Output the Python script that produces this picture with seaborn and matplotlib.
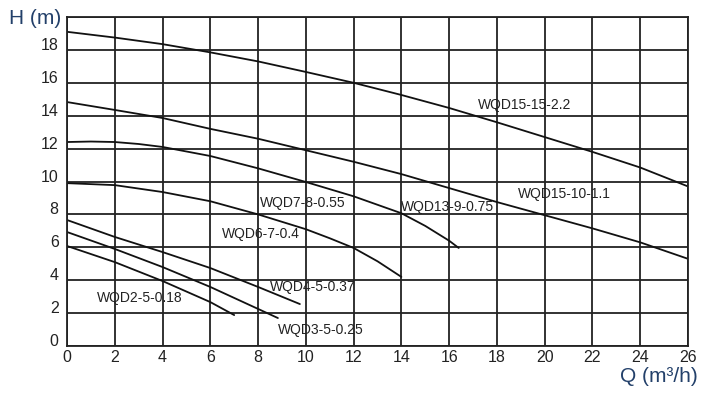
import matplotlib
matplotlib.use("Agg")
import matplotlib.pyplot as plt
import matplotlib.transforms as mtransforms
import seaborn as sns
import pandas as pd

# ---- data ----
q_15_15 = [0, 2, 4, 6, 8, 10, 12, 14, 16, 18, 20, 22, 24, 26]
h_15_15 = [19.1, 18.75, 18.35, 17.85, 17.3, 16.66, 16.0, 15.26, 14.47, 13.6, 12.7, 11.8, 10.85, 9.7]

q_15_10 = [0, 2, 4, 6, 8, 10, 12, 14, 16, 18, 20, 22, 24, 26]
h_15_10 = [14.83, 14.35, 13.86, 13.2, 12.6, 11.9, 11.2, 10.45, 9.6, 8.75, 7.95, 7.15, 6.3, 5.3]

q_13_9 = [0, 1, 2, 3, 4, 6, 8, 10, 12, 14, 15, 16, 16.4]
h_13_9 = [12.4, 12.43, 12.4, 12.28, 12.1, 11.55, 10.8, 9.97, 9.1, 8.07, 7.3, 6.4, 5.96]

q_7_8 = [0, 2, 4, 6, 8, 10, 11, 12, 13, 14]
h_7_8 = [9.9, 9.78, 9.36, 8.8, 8.0, 7.1, 6.55, 5.96, 5.15, 4.2]

q_4_5 = [0, 2, 4, 6, 8, 9.75]
h_4_5 = [7.66, 6.63, 5.71, 4.74, 3.59, 2.55]

q_3_5 = [0, 2, 4, 6, 8.83]
h_3_5 = [6.93, 5.9, 4.8, 3.59, 1.7]

q_2_5 = [0, 2, 4, 6, 7.0]
h_2_5 = [6.08, 5.1, 3.95, 2.67, 1.88]

curve_names = ["c15_15", "c15_10", "c13_9", "c7_8", "c4_5", "c3_5", "c2_5"]
curve_q = [q_15_15, q_15_10, q_13_9, q_7_8, q_4_5, q_3_5, q_2_5]
curve_h = [h_15_15, h_15_10, h_13_9, h_7_8, h_4_5, h_3_5, h_2_5]

label_texts = ["WQD15-15-2.2", "WQD15-10-1.1", "WQD13-9-0.75", "WQD7-8-0.55",
               "WQD6-7-0.4", "WQD4-5-0.37", "WQD2-5-0.18", "WQD3-5-0.25"]
label_q = [17.2, 18.87, 14.0, 8.08, 6.49, 8.5, 1.26, 8.83]
label_h = [14.65, 9.24, 8.45, 8.7, 6.8, 3.6, 2.9, 0.97]

x_ticks = list(range(0, 27, 2))
y_ticks = list(range(0, 21, 2))
y_tick_labels = [str(v) for v in range(0, 19, 2)] + [""]

# ---- build long-form table ----
rows = []
for name, qs, hs in zip(curve_names, curve_q, curve_h):
    for q, h in zip(qs, hs):
        rows.append({"curve": name, "Q": q, "H": h})
df = pd.DataFrame(rows)

sns.set_style("white")
plt.rcParams["font.family"] = ["Liberation Sans", "DejaVu Sans"]

fig = plt.figure(figsize=(7.09, 3.97), dpi=100)
ax = fig.add_axes([67 / 709, 1 - 346 / 397, (688 - 67) / 709, (346 - 17) / 397])

sns.lineplot(data=df, x="Q", y="H", units="curve", estimator=None, sort=False,
             color="#111111", linewidth=1.3, ax=ax, legend=False)

ax.set_xlim(0, 26)
ax.set_ylim(0, 20)
ax.set_xticks(x_ticks)
ax.set_yticks(y_ticks)
ax.set_xticklabels([str(v) for v in x_ticks])
ax.set_yticklabels(y_tick_labels)
ax.grid(True, color="#222222", linewidth=1.3)
ax.set_axisbelow(True)
for s in ax.spines.values():
    s.set_visible(True)
    s.set_color("#222222")
    s.set_linewidth(1.3)
ax.tick_params(axis="both", length=0, labelsize=11.5, colors="#222222")
ax.tick_params(axis="x", pad=3)
ax.tick_params(axis="y", pad=6)
ax.set_xlabel("")
ax.set_ylabel("")

# y tick labels sit a little above their grid lines in the reference
for lab in ax.get_yticklabels():
    lab.set_transform(lab.get_transform() + mtransforms.ScaledTranslation(0, 6 / 100, fig.dpi_scale_trans))

for t, q, h in zip(label_texts, label_q, label_h):
    ax.text(q, h, t, fontsize=10, color="#222222", ha="left", va="center")

fig.text(9 / 709, 1 - 19 / 397, "H (m)", fontsize=15, color="#23406a", ha="left", va="center")
fig.text(698 / 709, 1 - 377 / 397, "Q (m³/h)", fontsize=15, color="#23406a", ha="right", va="center")

fig.savefig("out.png", dpi=100)
